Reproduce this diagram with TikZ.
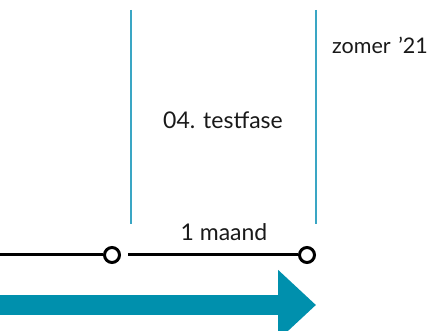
\documentclass[tikz,border=0pt]{standalone}
\usepackage{fontspec}
\setmainfont{Lato}
\usetikzlibrary{arrows.meta,positioning}
\definecolor{fasecol}{HTML}{3AA6C4}
\definecolor{pijlcol}{HTML}{0090AD}
\tikzset{
  mijlpaal/.style={circle, draw=black, fill=white, line width=3pt, minimum size=15pt, inner sep=0pt},
  tijdlijn/.style={line width=3pt, black},
  grens/.style={line width=1.2pt, fasecol},
  label/.style={font=\fontsize{23}{26}\selectfont, text=black!90, inner sep=0pt}
}
\begin{document}
\begin{tikzpicture}[x=1pt, y=-1pt]
    \useasboundingbox (0,0) rectangle (440,331);
    % phase borders
    \coordinate (g1top) at (131,10);
    \coordinate (g1bot) at (131,224);
    \coordinate (g2top) at (316,10);
    \coordinate (g2bot) at (316,224);
    \draw[grens] (g1top) -- (g1bot);
    \draw[grens] (g2top) -- (g2bot);
    % timeline
    \coordinate (start) at (-2,255);
    \node[mijlpaal] (m1) at (112,255) {};
    \node[mijlpaal] (m2) at (307,255) {};
    \coordinate (m1r) at (128,255);
    \draw[tijdlijn] (start) -- (m1);
    \draw[tijdlijn] (m1r) -- (m2);
    % labels
    \node[label] (duur) at (224,232) {1 maand};
    \node[label] (fase) at (223,120) {04. testfase};
    \node[label, anchor=west, font=\fontsize{21.5}{26}\selectfont] (tijd) at (332,45) {zomer\hspace{0.35em}’21};
    % big arrow
    \coordinate (pstart) at (-2,305);
    \coordinate (pend) at (316,305);
    \draw[pijlcol, line width=20pt, -{Triangle[length=38pt, width=68pt]}] (pstart) -- (pend);
\end{tikzpicture}
\end{document}
